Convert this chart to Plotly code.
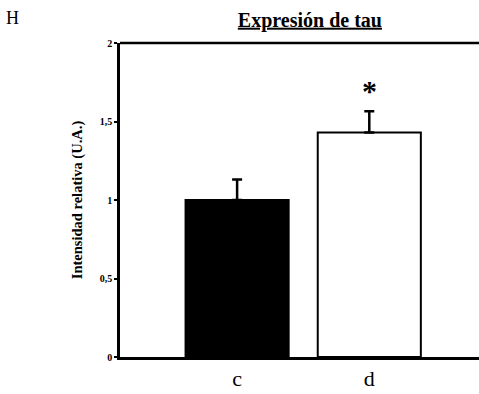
import plotly.graph_objects as go

categories = ["c", "d"]
values = [1.0, 1.43]
errors = [0.13, 0.135]
colors = ["black", "white"]
y_ticks = [0, 0.5, 1, 1.5, 2]
y_tick_labels = ["0", "0,5", "1", "1,5", "2"]

fig = go.Figure()
fig.add_trace(go.Bar(
    x=categories, y=values,
    marker=dict(color=colors, line=dict(color="black", width=2)),
    width=0.78,
    error_y=dict(type="data", array=errors, arrayminus=[0, 0], symmetric=False,
                 color="black", thickness=2.5, width=5),
))

serif = "Liberation Serif, Times New Roman, serif"

fig.add_shape(type="line", xref="paper", yref="paper", x0=0, x1=1, y0=1, y1=1,
              line=dict(color="black", width=2.5))

fig.add_annotation(x="d", y=1.58, text="<b>*</b>", showarrow=False, yanchor="bottom",
                   font=dict(family=serif, size=30, color="black"))
fig.add_annotation(xref="paper", yref="paper", x=-0.30, y=1.08, text="H",
                   showarrow=False, xanchor="center", yanchor="middle",
                   font=dict(family=serif, size=18, color="black"))

fig.update_layout(
    width=479, height=394,
    margin=dict(l=120, r=0, t=43, b=37),
    paper_bgcolor="white", plot_bgcolor="white",
    showlegend=False,
    title=dict(text="<b><u>Expresión de tau</u></b>", x=0.647, xanchor="center",
               y=0.95, yanchor="middle",
               font=dict(family=serif, size=20, color="black")),
    xaxis=dict(range=[-0.886, 1.83], showline=True, linecolor="black", linewidth=2.5,
               ticks="", tickfont=dict(family=serif, size=22, color="black"),
               showgrid=False, zeroline=False, automargin=False),
    yaxis=dict(range=[0, 2], tickvals=y_ticks, ticktext=y_tick_labels,
               showline=True, linecolor="black", linewidth=2.5,
               ticks="outside", ticklen=3, tickwidth=1.5, tickcolor="black",
               tickfont=dict(family=serif, size=10, color="black", weight="bold"),
               showgrid=False, zeroline=False, automargin=False,
               title=dict(text="<b>Intensidad relativa (U.A.)</b>", standoff=14,
                          font=dict(family=serif, size=14.5, color="black"))),
)

fig.write_html("out.html", config={"displayModeBar": False},
               post_script="document.body.style.margin='0';")
